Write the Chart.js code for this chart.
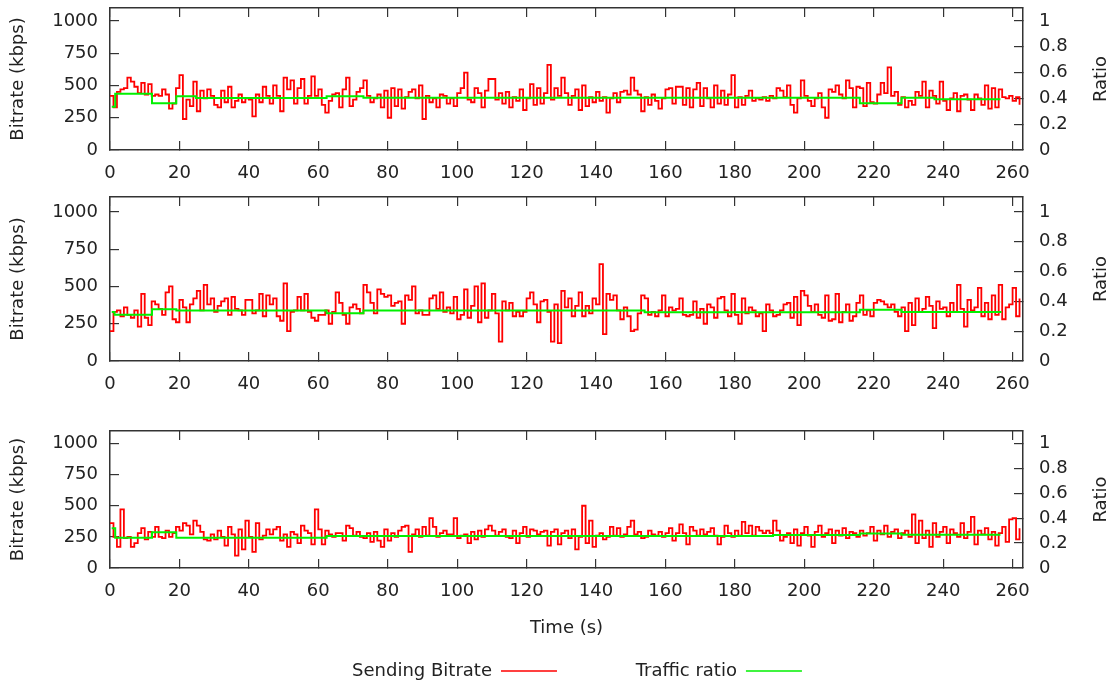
<!DOCTYPE html>
<html><head><meta charset="utf-8">
<script src="https://cdn.jsdelivr.net/npm/chart.js@4.4.1/dist/chart.umd.min.js"></script>
<style>
html,body{margin:0;padding:0;background:#fff;overflow:hidden;width:1114px;height:685px;position:relative}
canvas{position:absolute;left:0}
</style></head>
<body>
<canvas id="c1" width="1114" height="190" style="top:0px"></canvas>
<canvas id="c2" width="1114" height="210" style="top:190px"></canvas>
<canvas id="c3" width="1114" height="290" style="top:400px"></canvas>
<script>
// ---------------- DATA ----------------
const xAxisTitle = 'Time (s)';
const leftAxisTitle = 'Bitrate (kbps)';
const rightAxisTitle = 'Ratio';
const seriesNames = ['Sending Bitrate', 'Traffic ratio'];
const ratioTickLabels = ['0', '0.2', '0.4', '0.6', '0.8', '1'];

// Sending bitrate (kbps), one value per second, t = 0 .. 262
const sendingBitrate1 = [
420,330,450,470,480,560,530,490,440,520,
430,510,420,430,420,470,430,320,360,480,
580,240,390,340,530,300,460,400,470,420,
350,330,460,370,490,330,380,430,370,400,
390,260,430,370,490,420,360,500,420,300,
560,470,540,360,480,550,360,420,570,420,
470,350,290,380,430,440,330,470,560,340,
390,450,480,540,420,370,400,430,330,460,
250,480,340,470,320,410,450,470,400,500,
240,420,370,400,330,430,420,360,400,340,
440,480,600,390,370,480,440,330,460,550,
550,390,440,360,450,330,410,380,470,310,
400,510,350,480,360,440,660,390,480,420,
560,440,350,420,470,310,500,340,410,370,
450,380,410,290,400,440,370,450,460,430,
560,460,430,300,410,350,430,380,320,400,
470,480,360,490,490,350,480,330,470,520,
340,480,400,330,500,360,460,350,430,580,
330,410,350,420,460,380,400,390,410,380,
420,400,480,460,410,500,350,290,400,540,
420,380,340,400,440,330,250,470,450,500,
430,400,540,480,330,490,480,340,520,370,
360,430,520,440,640,420,450,350,410,330,
380,350,450,420,530,330,460,420,360,530,
380,310,400,440,300,420,430,390,310,430,
400,350,500,320,480,330,470,410,400,420,
380,410,350];

const sendingBitrate2 = [
200,330,340,300,360,310,290,340,230,450,
290,240,400,380,350,310,460,500,280,260,
410,360,260,380,420,470,340,510,380,420,
330,370,400,420,310,430,350,340,310,410,
410,320,340,450,300,440,380,420,300,270,
520,200,330,340,430,340,450,330,290,270,
310,310,340,250,330,460,390,310,250,360,
380,350,320,510,460,390,320,480,450,430,
440,370,390,400,250,440,410,500,320,340,
310,310,420,440,350,460,330,360,320,430,
280,310,480,290,370,500,260,520,290,340,
450,320,130,400,340,390,300,330,300,330,
420,460,380,260,400,410,330,130,380,120,
470,360,420,300,370,460,300,370,320,420,
380,650,180,450,410,440,340,280,360,300,
200,210,320,440,420,310,330,300,340,440,
300,360,340,350,420,310,300,310,400,290,
350,250,380,360,290,420,430,340,300,450,
310,250,420,320,360,340,300,320,200,380,
340,300,310,340,380,390,290,430,240,470,
440,370,330,380,310,290,440,270,280,450,
260,330,380,270,300,390,440,310,340,300,
390,410,400,380,360,380,330,300,360,200,
390,240,420,330,350,430,370,220,400,350,
360,300,390,330,510,350,230,410,340,360,
490,300,390,280,440,310,510,280,360,380,
490,300,420];

const sendingBitrate3 = [
360,250,170,470,240,250,170,200,280,320,
230,290,250,330,250,240,300,250,280,330,
300,360,340,270,380,340,290,230,220,270,
230,300,250,180,330,270,100,310,150,380,
250,130,360,230,260,310,270,310,330,220,
270,170,290,270,200,340,300,280,190,470,
310,190,300,270,250,280,280,220,340,320,
260,290,250,240,280,210,290,220,170,310,
220,280,250,300,330,340,130,270,310,250,
330,260,400,330,250,280,300,270,270,400,
240,260,270,200,290,230,300,250,310,340,
300,260,290,310,250,240,300,200,280,330,
250,310,300,270,290,300,180,290,310,190,
280,300,240,310,150,250,500,200,380,170,
260,280,230,250,330,260,320,250,270,330,
380,270,290,240,250,300,270,260,290,250,
280,320,220,280,350,280,190,330,300,260,
310,270,290,320,260,190,250,340,280,250,
300,260,370,280,340,260,330,300,280,300,
280,380,300,220,250,280,200,310,180,280,
330,260,170,290,340,250,280,310,200,300,
260,320,240,290,280,250,300,260,280,330,
220,300,270,340,250,290,310,240,280,300,
250,430,200,380,240,300,170,360,250,290,
330,200,310,280,250,360,240,290,410,190,
300,270,320,230,290,180,280,330,210,390,
400,230,320];

// Traffic ratio: value holds from the given time until the next one
const ratioTimes1  = [0.5, 1.5, 12.1, 19.1, 24.8, 62.4, 73, 216, 228, 237.5, 256.5];
const ratioValues1 = [0.336, 0.436, 0.362, 0.416, 0.403, 0.416, 0.405, 0.362, 0.405, 0.393, 0.393];
const ratioTimes2  = [0.5, 1.3, 12.1, 19.1, 62.4, 73, 154, 216, 228, 256.8];
const ratioValues2 = [0.329, 0.311, 0.347, 0.338, 0.32, 0.338, 0.327, 0.344, 0.329, 0.329];
const ratioTimes3  = [0.5, 1.5, 12.1, 19.1, 62.4, 191, 216, 228, 256.5];
const ratioValues3 = [0.32, 0.242, 0.287, 0.242, 0.256, 0.264, 0.278, 0.266, 0.266];

// ---------------- CHARTS ----------------
Chart.defaults.font.family = '"DejaVu Sans", sans-serif';
Chart.defaults.font.size = 18;
Chart.defaults.color = '#222';

const FRAME = '#333';
const gridOpts = {drawOnChartArea: false, drawTicks: true, tickLength: -9, color: FRAME, lineWidth: 1.2};
const borderOpts = {display: true, color: FRAME, width: 1.5};

function zeroPad(s) { s.paddingTop = 0; s.paddingBottom = 0; s.paddingLeft = 0; s.paddingRight = 0; }

const ratioTitlePlugin = {
  id: 'ratioTitle',
  afterDraw(chart) {
    const a = chart.chartArea, ctx = chart.ctx;
    ctx.save();
    ctx.translate(chart.scales.y2.right - 13, (a.top + a.bottom) / 2);
    ctx.rotate(-Math.PI / 2);
    ctx.font = '18px "DejaVu Sans", sans-serif';
    ctx.fillStyle = '#222';
    ctx.textAlign = 'center';
    ctx.textBaseline = 'middle';
    ctx.fillText(rightAxisTitle, 0, 0);
    ctx.restore();
  }
};

const legendLead = {'Sending Bitrate': 7, 'Traffic ratio': 12};

function makeChart(id, bitrate, rTimes, rVals, o) {
  const bitratePts = bitrate.map((v, i) => ({x: i, y: v}));
  const ratioPts = rTimes.map((t, i) => ({x: t, y: rVals[i]}));
  return new Chart(document.getElementById(id), {
    type: 'line',
    data: {
      datasets: [
        {label: seriesNames[1], data: ratioPts, yAxisID: 'y2', xAxisID: 'x',
         borderColor: '#00f000', backgroundColor: '#00f000', borderWidth: 2,
         stepped: 'before', pointRadius: 0, fill: false},
        {label: seriesNames[0], data: bitratePts, yAxisID: 'y', xAxisID: 'x',
         borderColor: '#ff0000', backgroundColor: '#ff0000', borderWidth: 1.8,
         stepped: 'before', pointRadius: 0, fill: false}
      ]
    },
    options: {
      responsive: false, animation: false, devicePixelRatio: 1,
      layout: {padding: {top: o.padTop, left: 0, right: 0, bottom: 0}},
      plugins: {
        tooltip: {enabled: false},
        legend: {
          display: o.legend, position: 'bottom', rtl: true, textDirection: 'ltr',
          labels: {
            usePointStyle: true, pointStyle: 'line', pointStyleWidth: 56, padding: 10,
            color: '#222', font: {size: 18},
            generateLabels(chart) {
              const items = Chart.defaults.plugins.legend.labels.generateLabels(chart);
              items.forEach(it => { it.text = ' '.repeat(legendLead[it.text] || 0) + it.text; it.lineWidth = 1.5; });
              return items;
            }
          }
        }
      },
      scales: {
        x: {
          type: 'linear', position: 'bottom', min: 0, max: 263,
          ticks: {stepSize: 20, includeBounds: false, padding: 22, maxRotation: 0, autoSkip: false,
                  callback: v => String(v)},
          grid: gridOpts, border: borderOpts,
          title: {display: o.xTitle, text: xAxisTitle, padding: {top: 0, bottom: 13}},
          afterFit(s) { s.height = o.xHeight; zeroPad(s); }
        },
        xTop: {
          type: 'linear', position: 'top', min: 0, max: 263,
          ticks: {display: false, stepSize: 20, includeBounds: false},
          grid: gridOpts, border: borderOpts,
          afterFit(s) { s.height = 0; zeroPad(s); }
        },
        y: {
          type: 'linear', position: 'left', min: 0, max: 1100,
          ticks: {stepSize: 250, includeBounds: false, padding: 21, autoSkip: false,
                  callback: v => String(v)},
          grid: gridOpts, border: borderOpts,
          title: {display: true, text: leftAxisTitle, padding: {top: 8, bottom: 0}},
          afterFit(s) { s.width = 110; zeroPad(s); }
        },
        y2: {
          type: 'linear', position: 'right', min: 0, max: 1.1,
          ticks: {stepSize: 0.2, includeBounds: false, padding: 25, autoSkip: false,
                  callback: v => ratioTickLabels[Math.round(v / 0.2)] ?? ''},
          grid: gridOpts, border: borderOpts,
          afterFit(s) { s.width = 91; zeroPad(s); }
        }
      }
    },
    plugins: [ratioTitlePlugin]
  });
}

makeChart('c1', sendingBitrate1, ratioTimes1, ratioValues1, {padTop: 8, xHeight: 40, xTitle: false, legend: false});
makeChart('c2', sendingBitrate2, ratioTimes2, ratioValues2, {padTop: 7, xHeight: 39, xTitle: false, legend: false});
makeChart('c3', sendingBitrate3, ratioTimes3, ratioValues3, {padTop: 31, xHeight: 84, xTitle: true, legend: true});
</script>
</body></html>
